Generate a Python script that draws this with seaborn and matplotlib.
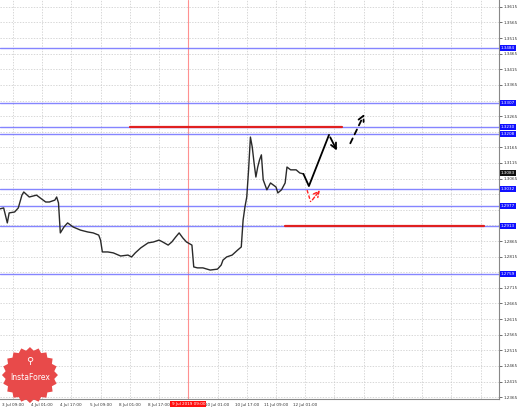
import numpy as np
import pandas as pd
import matplotlib
matplotlib.use('Agg')
import matplotlib.pyplot as plt
import matplotlib.transforms as mtrans
from matplotlib.patches import Polygon
import seaborn as sns

# price path (hour index, close)
hours = [0, 2, 4, 5, 8, 10, 12, 13, 16, 20, 22, 25, 27, 30, 31, 32, 33, 35, 37, 40,
         44, 48, 51, 54, 55, 56, 59, 62, 66, 70, 72, 74, 77, 81, 84, 87, 89, 92, 94, 96,
         98, 100, 102, 105, 106, 108, 111, 115, 119, 121, 122, 124, 127, 130, 132, 133, 134, 135, 136, 137,
         138, 139, 140, 141, 142, 143, 144, 146, 148, 151, 152, 154, 156, 157, 159, 162, 164, 166]
close = [1.2968, 1.2971, 1.2923, 1.2955, 1.2958, 1.2971, 1.3012, 1.3022, 1.3006, 1.3012,
         1.3003, 1.2990, 1.2990, 1.2996, 1.3006, 1.2987, 1.2891, 1.2910, 1.2923, 1.2910,
         1.2900, 1.2894, 1.2891, 1.2884, 1.2868, 1.2830, 1.2830, 1.2827, 1.2817, 1.2820,
         1.2814, 1.2827, 1.2843, 1.2859, 1.2862, 1.2868, 1.2862, 1.2852, 1.2862, 1.2877,
         1.2891, 1.2875, 1.2862, 1.2852, 1.2782, 1.2779, 1.2779, 1.2772, 1.2775, 1.2788,
         1.2804, 1.2814, 1.2820, 1.2836, 1.2846, 1.2932, 1.2974, 1.3006, 1.3093, 1.3198,
         1.3166, 1.3115, 1.3070, 1.3102, 1.3125, 1.3141, 1.3061, 1.3029, 1.3051, 1.3038,
         1.3019, 1.3029, 1.3051, 1.3102, 1.3093, 1.3093, 1.3083, 1.3080]

# horizontal levels
blue_levels = [1.3484, 1.3307, 1.3230, 1.3208, 1.3032, 1.2977, 1.2913, 1.2759]
current_price = 1.3083
red_levels = [1.3230, 1.2913]
red_starts = [71, 156]
red_ends = [187, 265]

# forecast paths
fc_main_x = [166, 169, 180, 185]
fc_main_y = [1.3080, 1.3041, 1.3205, 1.3147]
fc_dash_x = [191, 200]
fc_dash_y = [1.3170, 1.3280]
fc_red_x = [168, 170, 176]
fc_red_y = [1.3028, 1.2990, 1.3035]

xtick_pos = [7, 23, 39, 55, 71, 87, 119, 135, 151, 167]
xtick_labels = ['3 Jul 09:00', '4 Jul 01:00', '4 Jul 17:00', '5 Jul 09:00', '8 Jul 01:00',
                '8 Jul 17:00', '10 Jul 01:00', '10 Jul 17:00', '11 Jul 09:00', '12 Jul 01:00']
marker_hour = 103
marker_label = '9 Jul 2019 09:00'
ytick_vals = [1.2365, 1.2415, 1.2465, 1.2515, 1.2565, 1.2615, 1.2665, 1.2715, 1.2765,
              1.2815, 1.2865, 1.2915, 1.2965, 1.3015, 1.3065, 1.3115, 1.3165, 1.3215,
              1.3265, 1.3315, 1.3365, 1.3415, 1.3465, 1.3515, 1.3565, 1.3615]

df = pd.DataFrame({'hour': hours, 'close': close})

sns.set_style('white')
fig = plt.figure(figsize=(5.19, 4.08), dpi=100)
ax = fig.add_axes([0.0, 9/408, 499/519, 1 - 9/408])

ax.set_xlim(0, 273)
ax.set_ylim(1.2359, 1.3637)

# grid
for x in xtick_pos + [marker_hour, 183, 199, 215, 231, 247, 263]:
    ax.axvline(x, color='#c8c8c8', lw=0.5, ls=(0, (2, 2)), zorder=0)
for y in ytick_vals:
    ax.axhline(y, color='#c8c8c8', lw=0.5, ls=(0, (2, 2)), zorder=0)

ax.axvline(marker_hour, color='#ff9090', lw=0.8, zorder=1)

for lv in blue_levels:
    ax.axhline(lv, color='#7070ff', lw=1.0, alpha=0.85, zorder=1)
for lv, a, b in zip(red_levels, red_starts, red_ends):
    ax.plot([a, b], [lv, lv], color='#e02020', lw=1.6, zorder=2)

sns.lineplot(data=df, x='hour', y='close', color='#2a2a2a', lw=1.0, ax=ax, zorder=3)

# forecast
ax.plot(fc_main_x[:-1], fc_main_y[:-1], color='black', lw=1.3, zorder=4)
ax.annotate('', xy=(fc_main_x[-1], fc_main_y[-1]), xytext=(fc_main_x[-2], fc_main_y[-2]),
            arrowprops=dict(arrowstyle='->', color='black', lw=1.3), zorder=4)
ax.annotate('', xy=(fc_dash_x[1], fc_dash_y[1]), xytext=(fc_dash_x[0], fc_dash_y[0]),
            arrowprops=dict(arrowstyle='->', color='black', lw=1.3, ls=(0, (3, 2.5))), zorder=4)
ax.plot(fc_red_x[:-1], fc_red_y[:-1], color='#ff2020', lw=1.0, ls=(0, (2.5, 1.5)), zorder=4)
ax.annotate('', xy=(fc_red_x[-1], fc_red_y[-1]), xytext=(fc_red_x[-2], fc_red_y[-2]),
            arrowprops=dict(arrowstyle='->', color='#ff2020', lw=1.0, ls=(0, (2.5, 1.5))), zorder=4)

# axes
ax.yaxis.tick_right()
keep = [v for v in ytick_vals if min(abs(v - l) for l in blue_levels + [current_price]) > 0.0018]
ax.set_yticks(keep)
ax.set_yticklabels([f'{v:.4f}' for v in keep])
ax.set_xticks(xtick_pos)
ax.set_xticklabels(xtick_labels)
ax.tick_params(axis='both', labelsize=3.0, length=2, width=0.5, colors='#333333', pad=1.2)
ax.set_xlabel('')
ax.set_ylabel('')
for s in ['top', 'left']:
    ax.spines[s].set_visible(False)
ax.spines['right'].set_color('#888888')
ax.spines['bottom'].set_color('#888888')

ytrans = mtrans.blended_transform_factory(ax.transAxes, ax.transData)
for lv in blue_levels:
    ax.text(1.004, lv, f'{lv:.4f}', transform=ytrans, fontsize=3.0, color='white',
            va='center', ha='left', clip_on=False,
            bbox=dict(boxstyle='square,pad=0.25', fc='#1010ff', ec='none'))
ax.text(1.004, current_price, f'{current_price:.4f}', transform=ytrans, fontsize=3.0, color='white',
        va='center', ha='left', clip_on=False,
        bbox=dict(boxstyle='square,pad=0.25', fc='#111111', ec='none'))

xtrans = mtrans.blended_transform_factory(ax.transData, ax.transAxes)
ax.text(marker_hour, -0.012, marker_label, transform=xtrans, fontsize=3.0, color='white',
        va='center', ha='center', clip_on=False,
        bbox=dict(boxstyle='square,pad=0.3', fc='#ff1010', ec='none'))

# logo
cx, cy = 0.06, 0.06
n = 40
ang = np.linspace(0, 2 * np.pi, n, endpoint=False)
rad = np.where(np.arange(n) % 2 == 0, 1.0, 0.88)
pts = np.column_stack([cx + rad * 28 / 499 * np.cos(ang), cy + rad * 28 / 399 * np.sin(ang)])
ax.add_patch(Polygon(pts, closed=True, transform=ax.transAxes, fc='#e84a4a', ec='none',
                     zorder=5, clip_on=False))
ax.text(cx, cy - 0.005, 'InstaForex', transform=ax.transAxes, fontsize=5.5, color='white',
        ha='center', va='center', zorder=6)
ax.text(cx, cy + 0.035, '⚲', transform=ax.transAxes, fontsize=7, color='white',
        ha='center', va='center', zorder=6)

fig.savefig('out.png', dpi=100)
